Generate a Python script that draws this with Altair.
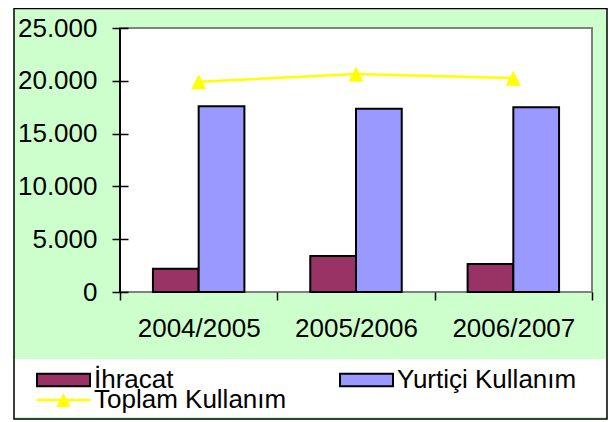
import altair as alt
import pandas as pd

years = ["2004/2005", "2005/2006", "2006/2007"]
ihracat = [2200, 3400, 2650]
yurtici = [17600, 17350, 17500]
toplam = [19900, 20650, 20250]
y_ticks = [0, 5000, 10000, 15000, 20000, 25000]
series_bar = ["İhracat", "Yurtiçi Kullanım"]
series_line = "Toplam Kullanım"
bar_colors = ["#993366", "#9999FF"]
line_color = "#FFFF00"

bar_df = pd.DataFrame({
    "yil": years * 2,
    "seri": [series_bar[0]] * 3 + [series_bar[1]] * 3,
    "deger": ihracat + yurtici,
})
line_df = pd.DataFrame({"yil": years, "seri": [series_line] * 3, "deger": toplam})

W, H = 472, 264
FONT = "Liberation Sans"
FS = 26

x_enc = alt.X(
    "yil:N", sort=years,
    scale=alt.Scale(domain=years, paddingInner=0, paddingOuter=0),
    axis=alt.Axis(title=None, domain=False, ticks=True, tickBand="extent", tickSize=8,
                  tickColor="black", tickWidth=1.5, labelAngle=0, labelFontSize=FS,
                  labelFont=FONT, labelColor="black", labelPadding=15, zindex=2),
)
y_scale = alt.Scale(domain=[0, 25000], nice=False, zero=True)
y_axis = alt.Axis(title=None, values=y_ticks, domain=False, grid=False, offset=-8,
                  tickSize=16, tickColor="black", tickWidth=1.5, labelFontSize=FS,
                  labelFont=FONT, labelColor="black", labelPadding=15,
                  labelExpr="replace(format(datum.value, ','), ',', '.')", zindex=2)

one = alt.Data(values=[{"a": 1}])
frame = alt.Chart(one).mark_rect(fill="#CCFFCC", stroke="black", strokeWidth=1.5).encode(
    x=alt.value(-106), x2=alt.value(487), y=alt.value(-19.5), y2=alt.value(391))
legend_box = alt.Chart(one).mark_rect(fill="white").encode(
    x=alt.value(-105), x2=alt.value(486), y=alt.value(331), y2=alt.value(389))
plot_bg = alt.Chart(one).mark_rect(fill="white", stroke="#808080", strokeWidth=2).encode(
    x=alt.value(0), x2=alt.value(W), y=alt.value(0), y2=alt.value(H))
left_line = alt.Chart(one).mark_rule(color="black", strokeWidth=2).encode(
    x=alt.value(0), y=alt.value(0), y2=alt.value(H))

bars = alt.Chart(bar_df).mark_bar(stroke="black", strokeWidth=2).encode(
    x=x_enc,
    xOffset=alt.XOffset("seri:N", sort=series_bar,
                        scale=alt.Scale(domain=series_bar, paddingInner=0, paddingOuter=0.72)),
    y=alt.Y("deger:Q", scale=y_scale, axis=y_axis),
    fill=alt.Fill("seri:N", sort=series_bar,
                  scale=alt.Scale(domain=series_bar, range=bar_colors),
                  legend=alt.Legend(title=None, orient="none", legendX=-69.5, legendY=339,
                                    columns=2, columnPadding=162, padding=0,
                                    symbolType="M-5.3,-1.25L5.3,-1.25L5.3,1.25L-5.3,1.25Z",
                                    symbolSize=100, symbolStrokeColor="black", symbolStrokeWidth=2,
                                    labelFontSize=FS, labelFont=FONT, labelColor="black",
                                    labelOffset=17.5, labelLimit=400, zindex=2)),
)

line = alt.Chart(line_df).mark_line(color=line_color, strokeWidth=2.5).encode(
    x=alt.X("yil:N", sort=years), y=alt.Y("deger:Q", scale=y_scale))
points = alt.Chart(line_df).mark_point(filled=True, shape="M0,-1L1,1L-1,1Z", size=225, opacity=1).encode(
    x=alt.X("yil:N", sort=years), y=alt.Y("deger:Q", scale=y_scale),
    color=alt.Color("seri:N", scale=alt.Scale(domain=[series_line], range=[line_color]),
                    legend=alt.Legend(title=None, orient="none", legendX=-69.5, legendY=359, padding=0,
                                      symbolType="M-5.4,-0.25L5.4,-0.25L5.4,0.25L-5.4,0.25ZM0,-1.4L1.4,1.4L-1.4,1.4Z",
                                      symbolSize=100, symbolStrokeWidth=0, symbolFillColor=line_color,
                                      labelFontSize=FS, labelFont=FONT, labelColor="black",
                                      labelOffset=17.5, labelLimit=400, zindex=2)),
)

chart = alt.layer(frame, legend_box, plot_bg, bars, left_line, line, points).properties(
    width=W, height=H,
    padding={"left": 112, "top": 20, "right": 16, "bottom": 128},
    autosize=alt.AutoSizeParams(type="none"),
    background="white",
).configure_view(stroke=None).configure(font=FONT)

chart.save("out.html", embed_options={"renderer": "svg", "actions": False})
